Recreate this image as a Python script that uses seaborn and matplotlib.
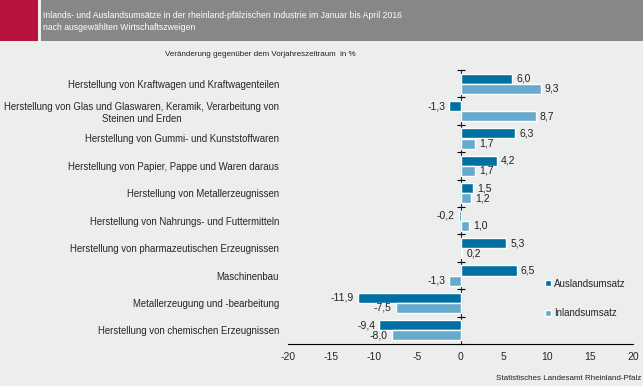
import matplotlib
matplotlib.use("Agg")
import matplotlib.pyplot as plt
import seaborn as sns
import pandas as pd
from matplotlib.patches import Rectangle

categories = [
    "Herstellung von Kraftwagen und Kraftwagenteilen",
    "Herstellung von Glas und Glaswaren, Keramik, Verarbeitung von\nSteinen und Erden",
    "Herstellung von Gummi- und Kunststoffwaren",
    "Herstellung von Papier, Pappe und Waren daraus",
    "Herstellung von Metallerzeugnissen",
    "Herstellung von Nahrungs- und Futtermitteln",
    "Herstellung von pharmazeutischen Erzeugnissen",
    "Maschinenbau",
    "Metallerzeugung und -bearbeitung",
    "Herstellung von chemischen Erzeugnissen",
]
auslandsumsatz = [6.0, -1.3, 6.3, 4.2, 1.5, -0.2, 5.3, 6.5, -11.9, -9.4]
inlandsumsatz = [9.3, 8.7, 1.7, 1.7, 1.2, 1.0, 0.2, -1.3, -7.5, -8.0]
series_names = ["Auslandsumsatz", "Inlandsumsatz"]
x_ticks = [-20, -15, -10, -5, 0, 5, 10, 15, 20]

BG = "#ECEDED"
DARK = "#0070A3"
LIGHT = "#68AACB"

df = pd.DataFrame({
    "cat": categories * 2,
    "val": auslandsumsatz + inlandsumsatz,
    "series": [series_names[0]] * len(categories) + [series_names[1]] * len(categories),
})

sns.set_style("white")
plt.rcParams["font.family"] = ["Liberation Sans", "DejaVu Sans"]

W, H = 643, 386
fig = plt.figure(figsize=(W / 100, H / 100), dpi=100, facecolor=BG)
ax = fig.add_axes([288 / W, 1 - 344 / H, (633 - 288) / W, (344 - 70) / H])
ax.set_facecolor(BG)

sns.barplot(data=df, y="cat", x="val", hue="series", orient="h",
            palette=[DARK, LIGHT], width=0.74, saturation=1, ax=ax,
            legend=True)

ax.set_xlim(-20, 20)
ax.set_ylim(9.5, -0.5)
ax.set_xticks(x_ticks)
ax.set_xticklabels([str(t) for t in x_ticks], fontsize=7.5)
ax.set_xlabel("")
ax.set_ylabel("")

for cont in ax.containers:
    labels = [f"{v:.1f}".replace(".", ",") for v in cont.datavalues]
    ax.bar_label(cont, labels=labels, padding=3, fontsize=7.5, color="#222222")

# y labels
ax.tick_params(axis="y", length=0, pad=6.5, labelsize=6.9)
for lab in ax.get_yticklabels():
    lab.set_multialignment("center")
ax.tick_params(axis="x", direction="out", length=4, width=0.8, color="black", pad=2)

for s in ["top", "right", "left"]:
    ax.spines[s].set_visible(False)
ax.spines["bottom"].set_color("black")
ax.spines["bottom"].set_linewidth(0.8)

sec = ax.secondary_yaxis(0.5)
sec.set_yticks([i - 0.5 for i in range(len(categories) + 1)])
sec.set_yticklabels([])
sec.tick_params(axis="y", direction="inout", length=6, width=0.8, color="black")
sec.spines["left"].set_color("black")
sec.spines["left"].set_linewidth(0.8)

leg = ax.legend(loc="upper left", bbox_to_anchor=(536 / W, 1 - 270 / H),
                bbox_transform=fig.transFigure, frameon=False, fontsize=7,
                handlelength=0.6, handleheight=0.6, handletextpad=0.35,
                labelspacing=2.0)

# header
fig.patches.append(Rectangle((0, 1 - 41 / H), 38 / W, 41 / H, transform=fig.transFigure,
                             facecolor="#B5123E", edgecolor="none", zorder=0))
fig.patches.append(Rectangle((41 / W, 1 - 41 / H), 1 - 41 / W, 41 / H, transform=fig.transFigure,
                             facecolor="#878787", edgecolor="none", zorder=0))
fig.text(43 / W, 1 - 15 / H, "Inlands- und Auslandsumsätze in der rheinland-pfälzischen Industrie im Januar bis April 2016",
         color="white", fontsize=6.2, va="center", ha="left")
fig.text(43 / W, 1 - 27 / H, "nach ausgewählten Wirtschaftszweigen",
         color="white", fontsize=6.2, va="center", ha="left")
fig.text(260 / W, 1 - 55 / H, "Veränderung gegenüber dem Vorjahreszeitraum  in %",
         color="#222222", fontsize=5.8, va="center", ha="center")
fig.text(641 / W, 1 - 379 / H, "Statistisches Landesamt Rheinland-Pfalz",
         color="#222222", fontsize=5.8, va="center", ha="right")

fig.savefig("out.png", dpi=100, facecolor=BG)
